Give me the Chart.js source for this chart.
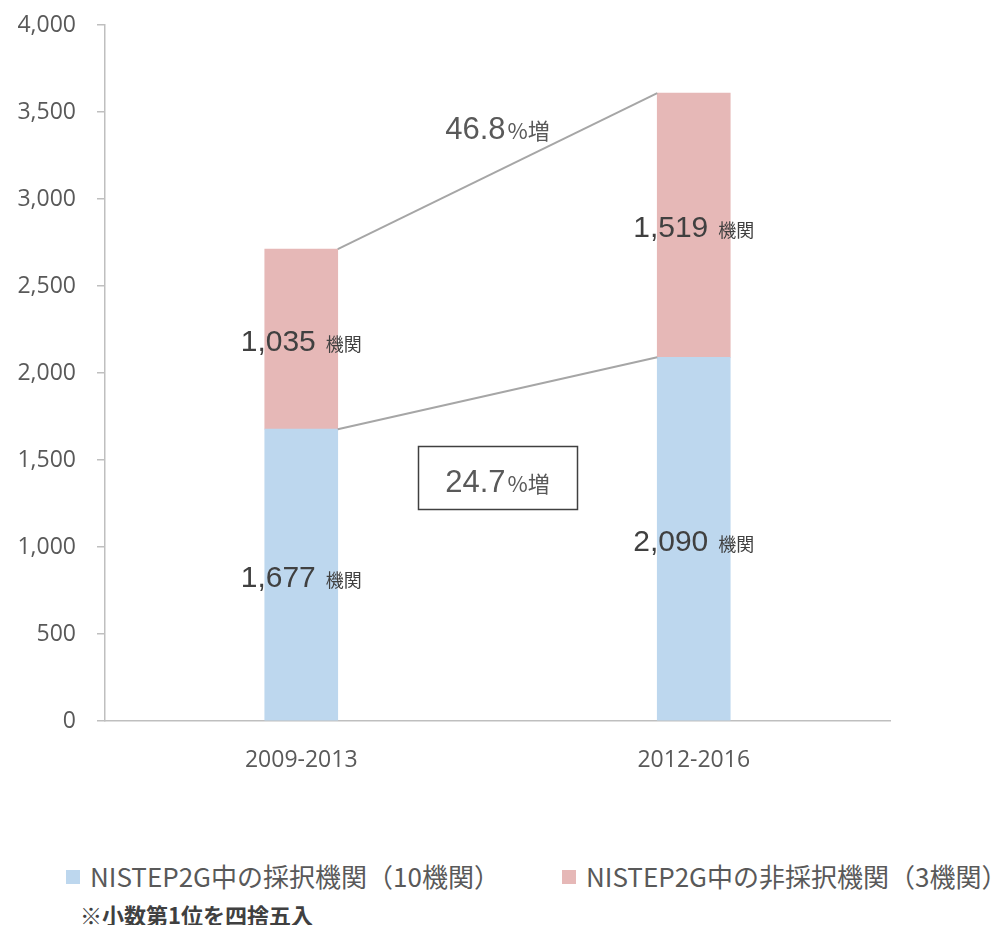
<!DOCTYPE html>
<html lang="ja">
<head>
<meta charset="utf-8">
<script src="https://cdn.jsdelivr.net/npm/chart.js@4/dist/chart.umd.min.js"></script>
<style>
  html, body { margin: 0; padding: 0; background: #fff; }
  #wrap { position: relative; width: 1001px; height: 925px; overflow: hidden; }
  #chart-box { position: absolute; left: 0; top: 0; width: 1001px; height: 800px; }
  #legend { position: absolute; left: 0; top: 861px; width: 1001px; height: 30px; font-family: "Noto Sans CJK JP", sans-serif; font-size: 26px; color: #595959; white-space: nowrap; }
  .item { position: absolute; top: 0; line-height: 30px; }
  .item i { position: absolute; top: 9px; width: 14px; height: 14px; }
  #note { position: absolute; left: 80px; top: 900px; font-family: "Noto Sans CJK JP", sans-serif; font-size: 22px; font-weight: bold; color: #404040; line-height: 28px; white-space: nowrap; }
</style>
</head>
<body>
<div id="wrap">
  <div id="chart-box"><canvas id="grafico"></canvas></div>
  <div id="legend"></div>
  <div id="note">※小数第1位を四捨五入</div>
</div>
<script>
// dados do grafico
const periodos = ["2009-2013", "2012-2016"];
const adotados = [1677, 2090];      // NISTEP2G中の採択機関
const naoAdotados = [1035, 1519];   // NISTEP2G中の非採択機関
const nomesSeries = ["NISTEP2G中の採択機関（10機関）", "NISTEP2G中の非採択機関（3機関）"];
const coresSeries = ["#BDD7EE", "#E6B8B7"];
const eixoY = { min: 0, max: 4000, passo: 500 };

// textos de aumento entre os periodos (valor = altura no eixo Y)
const aumentos = [
  { numero: "46.8", unidade: "%増", valor: 3408, caixa: false },
  { numero: "24.7", unidade: "%増", valor: 1380, caixa: true }
];

const fonteNum = '"Liberation Sans", Arial, sans-serif';
const fonteJp = '"Noto Sans CJK JP", sans-serif';

// rotulo "1,677 機関" no meio de cada barra
function desenhaRotulo(ctx, cx, cy, valor) {
  const num = valor.toLocaleString("en-US");
  ctx.font = "30px " + fonteNum;
  const w1 = ctx.measureText(num).width;
  ctx.font = "18px " + fonteJp;
  const w2 = ctx.measureText("機関").width;
  const gap = 10;
  let x = cx - (w1 + gap + w2) / 2;
  const base = cy + 12;
  ctx.fillStyle = "#404040";
  ctx.textAlign = "left";
  ctx.textBaseline = "alphabetic";
  ctx.font = "30px " + fonteNum;
  ctx.fillText(num, x, base);
  ctx.font = "18px " + fonteJp;
  ctx.fillText("機関", x + w1 + gap, base);
}

const pluginExtras = {
  id: "extras",
  afterDatasetsDraw(chart) {
    const ctx = chart.ctx;
    const azul = chart.getDatasetMeta(0).data;
    const rosa = chart.getDatasetMeta(1).data;

    // linhas ligando os topos das barras
    ctx.save();
    ctx.strokeStyle = "#A6A6A6";
    ctx.lineWidth = 2;
    [azul, rosa].forEach(barras => {
      const a = barras[0], b = barras[1];
      ctx.beginPath();
      ctx.moveTo(a.x + a.width / 2, a.y);
      ctx.lineTo(b.x - b.width / 2, b.y);
      ctx.stroke();
    });

    // rotulos dentro das barras
    [azul, rosa].forEach((barras, i) => {
      const valores = i === 0 ? adotados : naoAdotados;
      barras.forEach((el, j) => {
        desenhaRotulo(ctx, el.x, (el.y + el.base) / 2, valores[j]);
      });
    });

    // textos de aumento
    const xs = chart.scales.x;
    const ys = chart.scales.y;
    const cx = (xs.getPixelForValue(0) + xs.getPixelForValue(1)) / 2;
    aumentos.forEach(a => {
      const cy = ys.getPixelForValue(a.valor);
      ctx.font = "31px " + fonteNum;
      const w1 = ctx.measureText(a.numero).width;
      ctx.font = "22px " + fonteJp;
      const w2 = ctx.measureText(a.unidade).width;
      let x = cx - (w1 + 2 + w2) / 2;
      const base = cy + 11;
      ctx.fillStyle = "#595959";
      ctx.textAlign = "left";
      ctx.textBaseline = "alphabetic";
      ctx.font = "31px " + fonteNum;
      ctx.fillText(a.numero, x, base);
      ctx.font = "22px " + fonteJp;
      ctx.fillText(a.unidade, x + w1 + 2, base);
      if (a.caixa) {
        ctx.strokeStyle = "#404040";
        ctx.lineWidth = 1.5;
        ctx.strokeRect(Math.round(cx - 80) + 0.5, Math.round(cy - 35) + 0.5, 159, 63);
      }
    });
    ctx.restore();
  }
};

const grafico = new Chart(document.getElementById("grafico"), {
  type: "bar",
  data: {
    labels: periodos,
    datasets: [
      { label: nomesSeries[0], data: adotados, backgroundColor: coresSeries[0] },
      { label: nomesSeries[1], data: naoAdotados, backgroundColor: coresSeries[1] }
    ]
  },
  options: {
    responsive: true,
    maintainAspectRatio: false,
    animation: false,
    layout: { padding: { top: 25, right: 111, bottom: 0, left: 0 } },
    datasets: { bar: { barThickness: 73 } },
    scales: {
      x: {
        stacked: true,
        grid: { display: false },
        border: { display: true, color: "#BFBFBF", width: 1.5 },
        ticks: { color: "#595959", padding: 18, font: { family: "Open Sans", size: 23 } },
        afterFit(scale) { scale.height = 79; }
      },
      y: {
        stacked: true,
        min: eixoY.min,
        max: eixoY.max,
        ticks: {
          stepSize: eixoY.passo,
          color: "#595959",
          padding: 21,
          font: { family: "Open Sans", size: 23 },
          callback: v => v.toLocaleString("en-US")
        },
        grid: { drawOnChartArea: false, drawTicks: true, tickLength: 8, color: "#BFBFBF", lineWidth: 1.5 },
        border: { display: true, color: "#BFBFBF", width: 1.5 },
        afterFit(scale) {
          scale.width = 105;
          scale.paddingTop = 0;
          scale.paddingBottom = 0;
        }
      }
    },
    plugins: {
      legend: { display: false },
      tooltip: { enabled: false }
    }
  },
  plugins: [pluginExtras]
});

// legenda embaixo do grafico
const legenda = document.getElementById("legend");
const posicoes = [66, 562];
nomesSeries.forEach((nome, i) => {
  const d = document.createElement("div");
  d.className = "item";
  d.style.left = posicoes[i] + "px";
  d.innerHTML = '<i style="left:0;background:' + coresSeries[i] + '"></i><span style="margin-left:24px">' + nome + "</span>";
  legenda.appendChild(d);
});
</script>
</body>
</html>
